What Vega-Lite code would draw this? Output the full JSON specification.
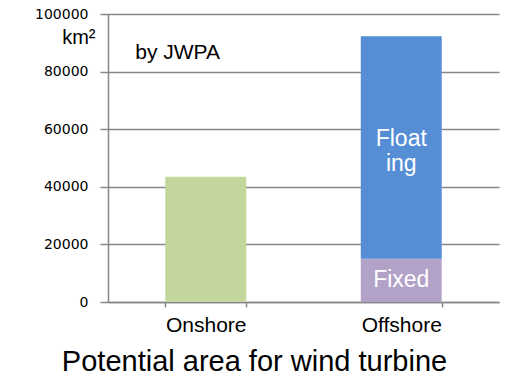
{
  "$schema": "https://vega.github.io/schema/vega-lite/v6.json",
  "width": 391,
  "height": 288,
  "autosize": {"type": "none"},
  "padding": {"left": 108, "top": 14, "right": 9, "bottom": 75},
  "config": {"view": {"stroke": null}, "font": "Liberation Sans"},
  "title": {
    "text": "Potential area for wind turbine",
    "orient": "bottom",
    "anchor": "middle",
    "frame": "group",
    "dx": -49,
    "offset": 36,
    "baseline": "alphabetic",
    "fontSize": 29,
    "fontWeight": "normal",
    "font": "Liberation Sans",
    "color": "#000000"
  },
  "datasets": {
    "bars": [
      {"cat": "Onshore", "part": "Onshore", "start": 0, "end": 43500},
      {"cat": "Offshore", "part": "Fixed", "start": 0, "end": 15000},
      {"cat": "Offshore", "part": "Floating", "start": 15000, "end": 92300}
    ],
    "labels": [
      {"cat": "Offshore", "label": "Float\ning", "pos": 56500},
      {"cat": "Offshore", "label": "Fixed", "pos": 7600}
    ],
    "note": [
      {"cat": "Onshore", "label": "by JWPA", "pos": 84500}
    ]
  },
  "layer": [
    {
      "data": {"name": "bars"},
      "mark": {"type": "bar"},
      "encoding": {
        "x": {
          "field": "cat",
          "type": "nominal",
          "sort": ["Onshore", "Offshore"],
          "scale": {"paddingInner": 0.586, "paddingOuter": 0.293},
          "axis": {
            "title": null,
            "labelAngle": 0,
            "labelFont": "Liberation Sans",
            "labelFontSize": 21,
            "labelColor": "#000000",
            "labelPadding": 7,
            "tickBand": "extent",
            "tickSize": 5,
            "tickColor": "#878787",
            "tickWidth": 1.5,
            "domainColor": "#878787",
            "domainWidth": 1.5
          }
        },
        "y": {
          "field": "start",
          "type": "quantitative",
          "scale": {"domain": [0, 100000], "nice": false},
          "axis": {
            "values": [0, 20000, 40000, 60000, 80000, 100000],
            "format": "d",
            "title": "km²",
            "titleAngle": 0,
            "titleAlign": "right",
            "titleBaseline": "alphabetic",
            "titleX": -13,
            "titleY": 29,
            "titleFont": "Liberation Sans",
            "titleFontSize": 20,
            "titleFontWeight": "normal",
            "titleColor": "#000000",
            "labelFont": "DejaVu Sans",
            "labelFontSize": 14,
            "labelColor": "#000000",
            "labelPadding": 12,
            "tickSize": 8,
            "tickColor": "#878787",
            "tickWidth": 1.5,
            "grid": true,
            "gridColor": "#878787",
            "gridWidth": 1.5,
            "domainColor": "#878787",
            "domainWidth": 1.5
          }
        },
        "y2": {"field": "end"},
        "color": {
          "field": "part",
          "type": "nominal",
          "scale": {
            "domain": ["Onshore", "Fixed", "Floating"],
            "range": ["#C3D69B", "#B3A2C7", "#558ED5"]
          },
          "legend": null
        }
      }
    },
    {
      "data": {"name": "labels"},
      "mark": {
        "type": "text",
        "color": "#FFFFFF",
        "font": "Liberation Sans",
        "fontSize": 23,
        "lineBreak": "\n",
        "lineHeight": 25,
        "align": "center",
        "baseline": "middle"
      },
      "encoding": {
        "x": {"field": "cat", "type": "nominal", "sort": ["Onshore", "Offshore"]},
        "y": {"field": "pos", "type": "quantitative"},
        "text": {"field": "label", "type": "nominal"}
      }
    },
    {
      "data": {"name": "note"},
      "mark": {
        "type": "text",
        "color": "#000000",
        "font": "Liberation Sans",
        "fontSize": 21,
        "align": "left",
        "baseline": "alphabetic",
        "dx": -30
      },
      "encoding": {
        "x": {"field": "cat", "type": "nominal", "sort": ["Onshore", "Offshore"], "bandPosition": 0},
        "y": {"field": "pos", "type": "quantitative"},
        "text": {"field": "label", "type": "nominal"}
      }
    }
  ]
}
